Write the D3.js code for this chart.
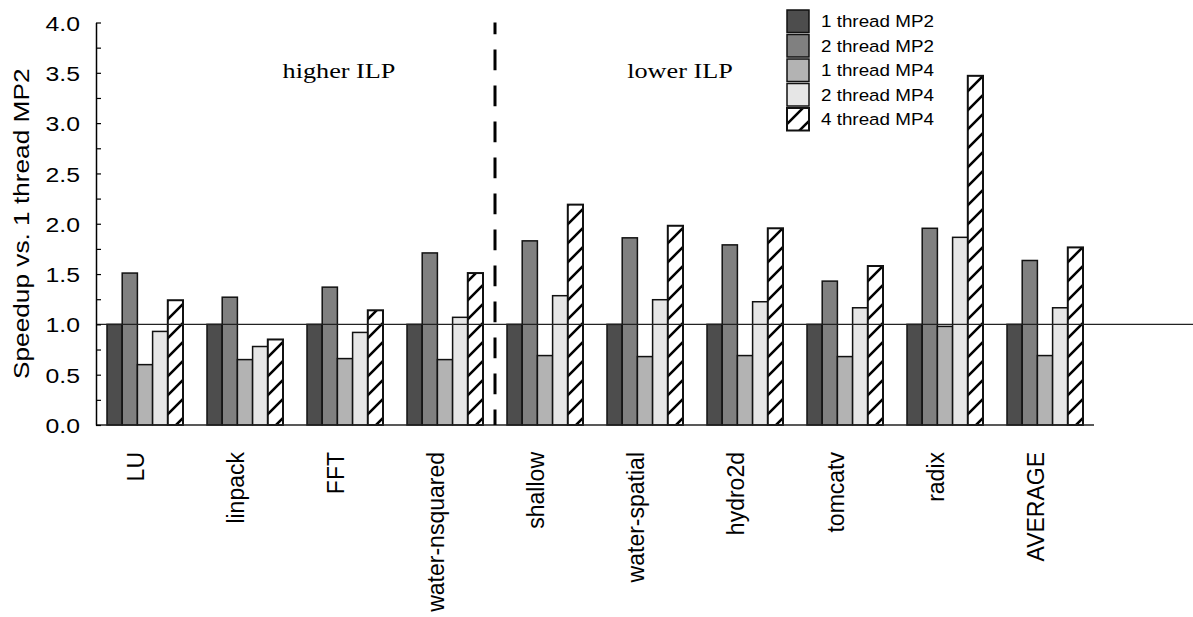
<!DOCTYPE html>
<html>
<head>
<meta charset="utf-8">
<script src="https://cdn.jsdelivr.net/npm/d3@7"></script>
<style>
  body { margin: 0; background: #fff; }
  text { font-family: "Liberation Sans", Arial, sans-serif; fill: #000; }
</style>
</head>
<body>
<svg class="bar_chart"></svg>
<script>
// benchmarks on the x axis
let categories = ['LU', 'linpack', 'FFT', 'water-nsquared', 'shallow', 'water-spatial',
                  'hydro2d', 'tomcatv', 'radix', 'AVERAGE'];
let series = ['1 thread MP2', '2 thread MP2', '1 thread MP4', '2 thread MP4', '4 thread MP4'];

// speedup vs 1 thread MP2
let mp2_1t = [1.00, 1.00, 1.00, 1.00, 1.00, 1.00, 1.00, 1.00, 1.00, 1.00];
let mp2_2t = [1.51, 1.27, 1.37, 1.71, 1.83, 1.86, 1.79, 1.43, 1.955, 1.635];
let mp4_1t = [0.60, 0.65, 0.66, 0.65, 0.69, 0.68, 0.69, 0.68, 0.98, 0.69];
let mp4_2t = [0.93, 0.78, 0.92, 1.07, 1.285, 1.245, 1.225, 1.165, 1.865, 1.165];
let mp4_4t = [1.24, 0.85, 1.14, 1.51, 2.19, 1.98, 1.955, 1.58, 3.47, 1.765];

let yTicks = [0, 0.25, 0.5, 0.75, 1, 1.25, 1.5, 1.75, 2, 2.25, 2.5, 2.75, 3, 3.25, 3.5, 3.75, 4];
let groupLabels = ['higher ILP', 'lower ILP'];
let baseline = 1.0;

const config = {
    svg: { width: 1193, height: 617 },
    axisLeft: 96, axisRight: 1094, bottom: 425, top: 22.5
};

let table = categories.map((c, i) => ({
    name: c,
    values: [mp2_1t[i], mp2_2t[i], mp4_1t[i], mp4_2t[i], mp4_4t[i]]
}));

let fills = ['#4d4d4d', '#808080', '#b3b3b3', '#e6e6e6', 'url(#hatch)'];

let svg = d3.select('body').select('.bar_chart')
    .attr('width', config.svg.width)
    .attr('height', config.svg.height);

// diagonal hatch for the 4 thread bars
let pat = svg.append('defs').append('pattern')
    .attr('id', 'hatch')
    .attr('patternUnits', 'userSpaceOnUse')
    .attr('width', 19).attr('height', 19);
pat.append('rect').attr('width', 19).attr('height', 19).attr('fill', '#fff');
pat.append('path')
    .attr('d', 'M-2,21 L21,-2 M-2,2 L2,-2 M17,21 L21,17')
    .attr('stroke', '#000').attr('stroke-width', 2.6);

let y = d3.scaleLinear().domain([0, 4]).range([config.bottom, config.top]);
let x = d3.scaleBand().domain(categories)
    .range([config.axisLeft, config.axisRight])
    .paddingInner(0.24).paddingOuter(0.11);
let xs = d3.scaleBand().domain(series).range([0, x.bandwidth()]);

// stretched text helper (the source font is wider than Arial)
function stext(parent, tx, ty, rot, sx, size, txt) {
    return parent.append('text')
        .attr('transform', `translate(${tx},${ty}) rotate(${rot}) scale(${sx},1)`)
        .style('font-size', size + 'px')
        .text(txt);
}

// bars
let groups = svg.selectAll('.grp')
    .data(table)
    .enter().append('g')
    .attr('class', 'grp')
    .attr('transform', d => `translate(${x(d.name)},0)`);

groups.selectAll('rect')
    .data(d => d.values)
    .enter().append('rect')
    .attr('x', (d, i) => xs(series[i]))
    .attr('y', d => y(d))
    .attr('width', xs.bandwidth())
    .attr('height', d => y(0) - y(d))
    .attr('fill', (d, i) => fills[i])
    .attr('stroke', '#111')
    .attr('stroke-width', (d, i) => i == 4 ? 2 : 1.5);

// reference line at 1.0
svg.append('line')
    .attr('x1', config.axisLeft).attr('x2', config.svg.width)
    .attr('y1', y(baseline)).attr('y2', y(baseline))
    .attr('stroke', '#222').attr('stroke-width', 1.2);

// x axis line
svg.append('line')
    .attr('x1', config.axisLeft).attr('x2', config.axisRight)
    .attr('y1', y(0)).attr('y2', y(0))
    .attr('stroke', '#222').attr('stroke-width', 1.5);

// y axis, ticks inward
let yAxis = svg.append('g')
    .attr('transform', `translate(${config.axisLeft},0)`)
    .call(d3.axisLeft(y)
        .tickValues(yTicks)
        .tickSizeInner(-5)
        .tickSizeOuter(0)
        .tickFormat(d => (d * 2) % 1 === 0 ? d3.format('.1f')(d) : ''));
yAxis.select('.domain').attr('stroke', '#000').attr('stroke-width', 1.5);
yAxis.selectAll('.tick line').attr('stroke', '#000').attr('stroke-width', 1.2);
yAxis.selectAll('.tick text')
    .attr('x', null).attr('dy', '0.36em')
    .attr('transform', 'translate(-16,0) scale(1.18,1)')
    .attr('text-anchor', 'end')
    .style('font-family', '"Liberation Sans", Arial, sans-serif')
    .style('font-size', '21px')
    .style('fill', '#000');

// y axis title
stext(svg, 28.5, (config.top + config.bottom) / 2, -90, 1.22, 21.5, 'Speedup vs. 1 thread MP2')
    .attr('text-anchor', 'middle');

// x labels, rotated
svg.selectAll('.xlab')
    .data(categories)
    .enter().append('text')
    .attr('class', 'xlab')
    .attr('transform', d => `translate(${x(d) + x.bandwidth() / 2 - 1},452) rotate(-90)`)
    .attr('text-anchor', 'end')
    .style('font-size', '23px')
    .text(d => d);

// divider between the two ILP groups
let divX = (x('water-nsquared') + x.bandwidth() + x('shallow')) / 2;
svg.append('line')
    .attr('x1', divX).attr('x2', divX)
    .attr('y1', config.top).attr('y2', config.bottom)
    .attr('stroke', '#000').attr('stroke-width', 3)
    .attr('stroke-dasharray', '20.7,15.3')
    .attr('stroke-dashoffset', 9);

let ilpX = [339, 680];
groupLabels.forEach((t, i) => {
    stext(svg, ilpX[i], 77.7, 0, 1.22, 21.5, t)
        .attr('text-anchor', 'middle')
        .style('font-family', '"Liberation Serif", "Times New Roman", serif');
});

// legend
let legend = svg.append('g')
    .attr('class', 'legend')
    .attr('transform', 'translate(787,10)');

legend.selectAll('rect')
    .data(series)
    .enter().append('rect')
    .attr('x', 0)
    .attr('y', (d, i) => i * 24.5)
    .attr('width', 22)
    .attr('height', 22.5)
    .attr('fill', (d, i) => fills[i])
    .attr('stroke', '#111')
    .attr('stroke-width', (d, i) => i == 4 ? 2 : 1.5);

series.forEach((s, i) => {
    stext(legend, 34, 17 + i * 24.5, 0, 1.14, 16.5, s);
});
</script>
</body>
</html>
